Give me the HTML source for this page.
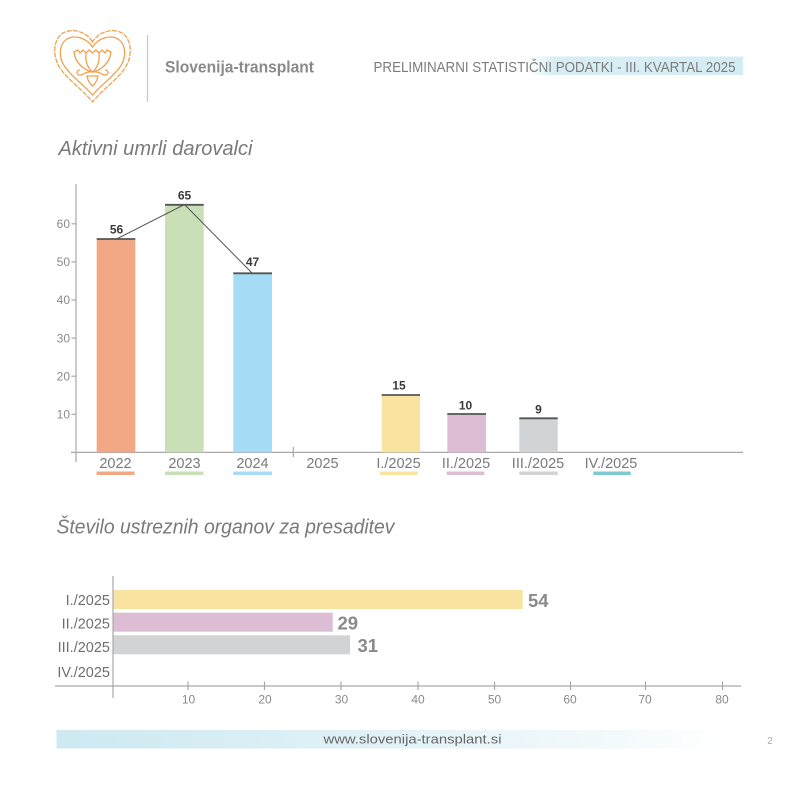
<!DOCTYPE html>
<html>
<head>
<meta charset="utf-8">
<style>
html,body{margin:0;padding:0;background:#fff;}
svg{display:block;}
text{font-family:"Liberation Sans",sans-serif;}
</style>
</head>
<body>
<svg width="800" height="800" viewBox="0 0 800 800" xmlns="http://www.w3.org/2000/svg">
<defs>
<linearGradient id="hb" x1="0" x2="1" y1="0" y2="0">
<stop offset="0" stop-color="#d7eef4" stop-opacity="0"/>
<stop offset="0.12" stop-color="#d7eef4"/>
<stop offset="1" stop-color="#d4edf3"/>
</linearGradient>
<linearGradient id="fb" x1="0" x2="1" y1="0" y2="0">
<stop offset="0" stop-color="#cde9f1"/>
<stop offset="0.45" stop-color="#dff1f6"/>
<stop offset="0.85" stop-color="#f4fafc"/>
<stop offset="1" stop-color="#ffffff"/>
</linearGradient>
</defs>

<!-- Header logo -->
<g fill="none" stroke="#f0a24e" stroke-width="1.3">
<path d="M92.5,42 C86,31 72,28 63,33 C52,40 53,58 60,68 C68,80 82,89 92.5,102 C103,89 117,80 125,68 C132,58 133,40 122,33 C113,28 99,31 92.5,42 Z" stroke-dasharray="5 1.2"/>
<path d="M92.5,47 C86,37 74,35 67,39 C58,45 59,59 65,67 C72,77 84,85 92.5,95 C101,85 113,77 120,67 C126,59 127,45 118,39 C111,35 99,37 92.5,47 Z"/>
<path d="M74,52 L78,50 L80,53 L83,50 L86,53 L89,50 L92.5,53 L96,50 L99,53 L102,50 L105,53 L107,50 L111,52 C110,62 102,70 92.5,72 C83,70 75,62 74,52 Z"/>
<path d="M86,53 C85,62 88,68 92.5,72 C97,68 100,62 99,53"/>
<path d="M80,70 C76,70 76,75 80,75 C84,75 85,71 92.5,72 C100,71 101,75 105,75 C109,75 109,70 105,70"/>
<path d="M87,76 L98,76 C97,81 95,84 92.5,86 C90,84 88,81 87,76 Z"/>
</g>
<line x1="147.5" y1="35" x2="147.5" y2="102" stroke="#c8c8c8" stroke-width="1.3"/>
<text x="165" y="72.5" font-size="17" font-weight="bold" fill="#8a8a8a" textLength="149" lengthAdjust="spacingAndGlyphs">Slovenija-transplant</text>

<!-- Header right -->
<rect x="528" y="56.5" width="215" height="18.5" fill="url(#hb)"/>
<text x="373.5" y="72" font-size="15" fill="#7c7c7c" textLength="362" lengthAdjust="spacingAndGlyphs">PRELIMINARNI STATISTIČNI PODATKI - III. KVARTAL 2025</text>

<!-- Title 1 -->
<text x="58.5" y="155" font-size="20" font-style="italic" fill="#7a7a7a" textLength="194" lengthAdjust="spacingAndGlyphs">Aktivni umrli darovalci</text>

<!-- Top chart axes -->
<g stroke="#a8a8a8" stroke-width="1.2">
<line x1="76" y1="184" x2="76" y2="462"/>
<line x1="71" y1="452.4" x2="743" y2="452.4"/>
<line x1="293.3" y1="447" x2="293.3" y2="457"/>
<line x1="71.5" y1="414.3" x2="76" y2="414.3"/>
<line x1="71.5" y1="376.2" x2="76" y2="376.2"/>
<line x1="71.5" y1="338.1" x2="76" y2="338.1"/>
<line x1="71.5" y1="300" x2="76" y2="300"/>
<line x1="71.5" y1="261.9" x2="76" y2="261.9"/>
<line x1="71.5" y1="223.8" x2="76" y2="223.8"/>
</g>
<g font-size="12" fill="#8a8a8a" text-anchor="end">
<text x="70" y="418.5">10</text>
<text x="70" y="380.4">20</text>
<text x="70" y="342.3">30</text>
<text x="70" y="304.2">40</text>
<text x="70" y="266.1">50</text>
<text x="70" y="228">60</text>
</g>

<!-- Bars -->
<rect x="96.7" y="239" width="38.6" height="213.4" fill="#f2a884"/>
<rect x="165" y="204.8" width="38.7" height="247.6" fill="#c9e0b6"/>
<rect x="233.3" y="273.3" width="38.7" height="179.1" fill="#a6dcf6"/>
<rect x="381.7" y="395" width="38.3" height="57.4" fill="#f8e3a0"/>
<rect x="447.3" y="414" width="38.7" height="38.4" fill="#dcbdd3"/>
<rect x="519.3" y="418.3" width="38.4" height="34.1" fill="#d2d3d5"/>
<g stroke="#555" stroke-width="1.8">
<line x1="96.7" y1="239" x2="135.3" y2="239"/>
<line x1="165" y1="204.8" x2="203.7" y2="204.8"/>
<line x1="233.3" y1="273.3" x2="272" y2="273.3"/>
<line x1="381.7" y1="395" x2="420" y2="395"/>
<line x1="447.3" y1="414" x2="486" y2="414"/>
<line x1="519.3" y1="418.3" x2="557.7" y2="418.3"/>
</g>
<polyline points="116.5,239 184.5,204.5 252,273" fill="none" stroke="#555" stroke-width="1"/>
<g font-size="12" font-weight="bold" fill="#3a3a3a" text-anchor="middle">
<text x="116.5" y="233.5">56</text>
<text x="184.5" y="199.5">65</text>
<text x="252.5" y="266">47</text>
<text x="399" y="389.5">15</text>
<text x="465.5" y="409.5">10</text>
<text x="538.5" y="413.5">9</text>
</g>
<g font-size="14.5" fill="#7a7a7a" text-anchor="middle">
<text x="115.5" y="468">2022</text>
<text x="184.5" y="468">2023</text>
<text x="252.5" y="468">2024</text>
<text x="322.5" y="468">2025</text>
<text x="398.5" y="468">I./2025</text>
<text x="466" y="468">II./2025</text>
<text x="538" y="468">III./2025</text>
<text x="611" y="468">IV./2025</text>
</g>
<rect x="96.5" y="471.5" width="38" height="3.5" fill="#f2a884"/>
<rect x="165" y="471.5" width="38.5" height="3.5" fill="#c9e0b6"/>
<rect x="233.3" y="471.5" width="38.7" height="3.5" fill="#a6dcf6"/>
<rect x="380" y="471.5" width="37.7" height="3.5" fill="#f8e3a0"/>
<rect x="446.7" y="471.5" width="37.6" height="3.5" fill="#dcbdd3"/>
<rect x="519.3" y="471.5" width="38.4" height="3.5" fill="#d2d3d5"/>
<rect x="593.3" y="471.5" width="37.4" height="3.5" fill="#7ccbd0"/>

<!-- Title 2 -->
<text x="56.5" y="533.5" font-size="20" font-style="italic" fill="#7a7a7a" textLength="338" lengthAdjust="spacingAndGlyphs">Število ustreznih organov za presaditev</text>

<!-- Bottom chart -->
<rect x="113" y="590" width="409.7" height="19" fill="#f8e3a0"/>
<rect x="113" y="612.7" width="219.7" height="19" fill="#dcbdd3"/>
<rect x="113" y="635.3" width="237" height="19" fill="#d2d3d5"/>
<g stroke="#a8a8a8" stroke-width="1.2">
<line x1="113" y1="576" x2="113" y2="698"/>
<line x1="55" y1="686" x2="741" y2="686"/>
<line x1="188" y1="681.5" x2="188" y2="690"/>
<line x1="264.5" y1="681.5" x2="264.5" y2="690"/>
<line x1="341" y1="681.5" x2="341" y2="690"/>
<line x1="418" y1="681.5" x2="418" y2="690"/>
<line x1="494.5" y1="681.5" x2="494.5" y2="690"/>
<line x1="570.5" y1="681.5" x2="570.5" y2="690"/>
<line x1="645.5" y1="681.5" x2="645.5" y2="690"/>
<line x1="722.5" y1="681.5" x2="722.5" y2="690"/>
</g>
<g font-size="12" fill="#8a8a8a" text-anchor="middle">
<text x="188.5" y="703.5">10</text>
<text x="265" y="703.5">20</text>
<text x="341.5" y="703.5">30</text>
<text x="418" y="703.5">40</text>
<text x="494.5" y="703.5">50</text>
<text x="570" y="703.5">60</text>
<text x="645" y="703.5">70</text>
<text x="722" y="703.5">80</text>
</g>
<g font-size="14.5" fill="#6e6e6e" text-anchor="end">
<text x="110" y="605">I./2025</text>
<text x="110" y="628.5">II./2025</text>
<text x="110" y="652">III./2025</text>
<text x="110" y="677">IV./2025</text>
</g>
<g font-size="18.5" font-weight="bold" fill="#8a8a8a">
<text x="528" y="607">54</text>
<text x="337.5" y="629.5">29</text>
<text x="357.5" y="652">31</text>
</g>

<!-- Footer -->
<rect x="56.5" y="730" width="665" height="18.5" fill="url(#fb)"/>
<text x="412.5" y="743.5" font-size="13" fill="#666" text-anchor="middle" textLength="178" lengthAdjust="spacingAndGlyphs">www.slovenija-transplant.si</text>
<text x="770" y="744" font-size="10" fill="#aaa" text-anchor="middle">2</text>
</svg>
</body>
</html>
